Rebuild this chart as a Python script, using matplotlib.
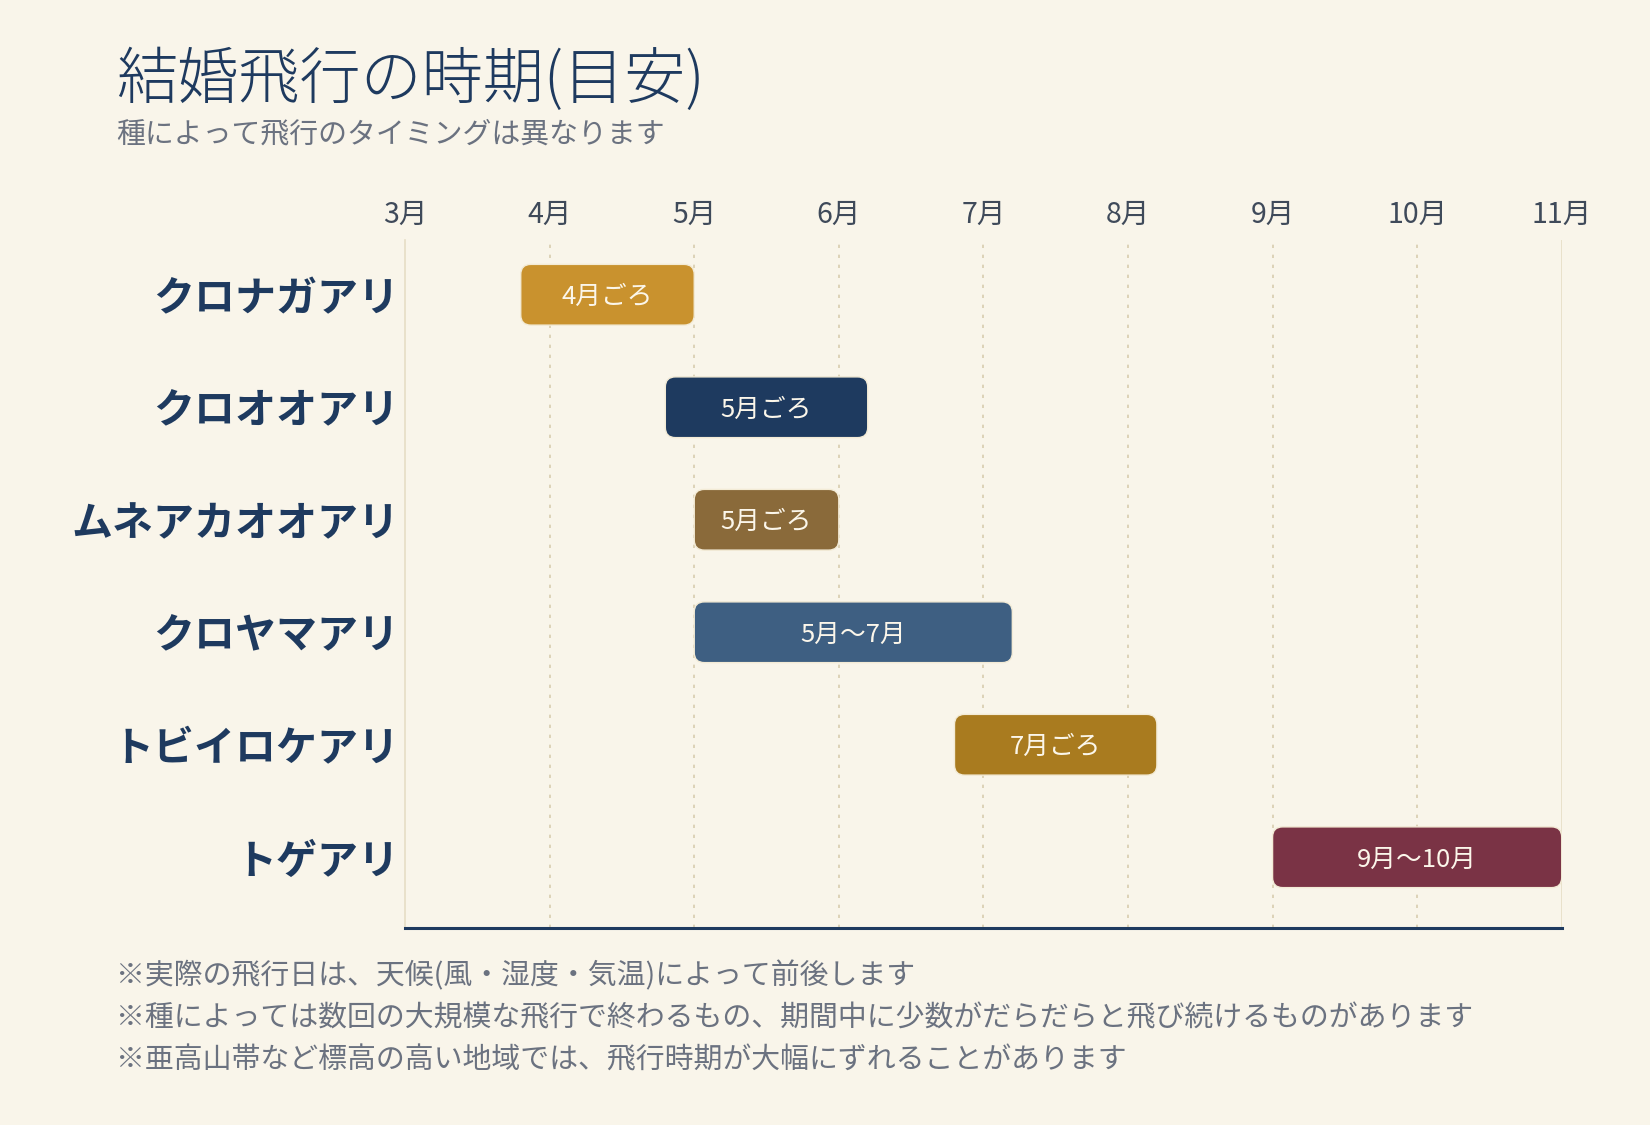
import matplotlib
matplotlib.use('Agg')
import matplotlib.pyplot as plt
from matplotlib.patches import FancyBboxPatch

plt.rcParams['font.family'] = ['Noto Sans CJK JP', 'DejaVu Sans']

# ---------------- data ----------------
SPECIES = ['クロナガアリ', 'クロオオアリ', 'ムネアカオオアリ',
           'クロヤマアリ', 'トビイロケアリ', 'トゲアリ']
START = [3.8, 4.8, 5.0, 5.0, 6.8, 9.0]      # month (fractional)
END = [5.0, 6.2, 6.0, 7.2, 8.2, 11.0]
BAR_TEXT = ['4月ごろ', '5月ごろ', '5月ごろ', '5月〜7月', '7月ごろ', '9月〜10月']
MONTHS = [3, 4, 5, 6, 7, 8, 9, 10, 11]
MONTH_LABELS = [f'{m}月' for m in MONTHS]
NOTES = ['※実際の飛行日は、天候(風・湿度・気温)によって前後します',
         '※種によっては数回の大規模な飛行で終わるもの、期間中に少数がだらだらと飛び続けるものがあります',
         '※亜高山帯など標高の高い地域では、飛行時期が大幅にずれることがあります']

COLORS = ['#C9922E', '#1E3A5F', '#8A6A3A', '#3E5F82', '#A97B1F', '#7A3345']
BG = '#F9F5EA'
NAVY = '#1E3A5F'
GREY = '#6B7280'

fig = plt.figure(figsize=(16.5, 11.25), dpi=100, facecolor=BG)
ax = fig.add_axes([0.2455, 0.175, 0.701, 0.612])
ax.set_facecolor(BG)

ax.set_xlim(MONTHS[0], MONTHS[-1])
ax.set_ylim(len(SPECIES) - 0.37, -0.49)

# month px / row px -> keeps corner radius round
aspect = 144.6 / 112.6
for i, (s, e) in enumerate(zip(START, END)):
    h = 0.54
    box = FancyBboxPatch((s, i - h / 2), e - s, h,
                         boxstyle='round,pad=0,rounding_size=0.07',
                         mutation_aspect=aspect,
                         fc=COLORS[i], ec='#F3EBD6', lw=1.0, zorder=3)
    ax.add_patch(box)
    ax.text((s + e) / 2, i + 0.02, BAR_TEXT[i], ha='center', va='center',
            color='#FBF6EA', fontsize=18.5, zorder=4)

# dotted month grid
for m in MONTHS[1:-1]:
    ax.axvline(m, color='#D8CDAE', lw=1.2, ls=(0, (2, 4)), zorder=1)
ax.axvline(MONTHS[-1], color='#E6DDC5', lw=1.2, zorder=1)

ax.set_xticks(MONTHS)
ax.set_xticklabels(MONTH_LABELS, fontsize=20.5, color='#3F4A5A')
ax.xaxis.tick_top()
ax.tick_params(axis='x', length=0, pad=7)

ax.set_yticks(range(len(SPECIES)))
ax.set_yticklabels(SPECIES, fontsize=29.5, fontweight='bold', color=NAVY)
ax.tick_params(axis='y', length=0, pad=4)

for sp in ['top', 'right']:
    ax.spines[sp].set_visible(False)
ax.spines['left'].set_color('#E6DDC5')
ax.spines['left'].set_linewidth(1.2)
ax.spines['bottom'].set_color(NAVY)
ax.spines['bottom'].set_linewidth(2.2)

# titles
fig.text(0.0705, 0.913, '結婚飛行の時期(目安)', fontsize=44, color=NAVY,
         fontweight='light', va='baseline')
fig.text(0.0705, 0.873, '種によって飛行のタイミングは異なります', fontsize=20.8,
         color=GREY, va='baseline')

# footnotes
for k, note in enumerate(NOTES):
    fig.text(0.0705, 0.132 - k * 0.0373, note, fontsize=20.8, color=GREY,
             va='center')

fig.savefig('out.png', dpi=100, facecolor=BG)
